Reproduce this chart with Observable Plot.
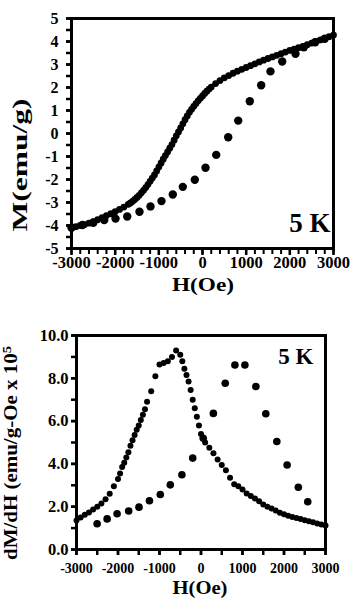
<!DOCTYPE html>
<html><head><meta charset="utf-8">
<script src="https://cdn.jsdelivr.net/npm/d3@7"></script>
<script src="https://cdn.jsdelivr.net/npm/@observablehq/plot@0.6"></script>
<style>
body{margin:0;background:#fff;}
#c{width:356px;height:598px;position:relative;overflow:hidden;}
#c svg{display:block;}
</style></head><body><div id="c"></div>
<script>
// ---- data ----
const hDense = [-3000,-2900,-2800,-2700,-2600,-2500,-2400,-2300,-2200,-2100,-2000,-1900,-1800,-1700,-1650,-1600,-1550,-1500,-1450,-1400,-1350,-1300,-1250,-1200,-1150,-1100,-1050,-1000,-950,-900,-850,-800,-750,-700,-650,-600,-550,-500,-450,-400,-350,-300,-250,-200,-150,-100,-50,0,50,100,150,200,300,400,500,600,700,800,900,1000,1100,1200,1300,1400,1500,1600,1700,1800,1900,2000,2100,2200,2300,2400,2500,2600,2700,2800,2900,3000];
// M (emu/g), descending branch (dense points)
const mDense = [-4.10,-4.05,-4.00,-3.96,-3.90,-3.83,-3.75,-3.66,-3.57,-3.49,-3.40,-3.30,-3.20,-3.08,-3.02,-2.95,-2.87,-2.78,-2.69,-2.58,-2.47,-2.35,-2.22,-2.08,-1.94,-1.80,-1.63,-1.46,-1.29,-1.12,-0.96,-0.80,-0.64,-0.48,-0.29,-0.10,0.07,0.24,0.42,0.60,0.76,0.92,1.05,1.18,1.30,1.42,1.53,1.63,1.74,1.84,1.93,2.02,2.17,2.30,2.42,2.52,2.62,2.71,2.79,2.87,2.95,3.03,3.11,3.19,3.26,3.33,3.40,3.47,3.54,3.61,3.67,3.73,3.79,3.86,3.93,4.00,4.07,4.14,4.21,4.28];
// M (emu/g), ascending branch (sparse points)
const hSparseM = [-3000,-2750,-2500,-2250,-1992,-1724,-1443,-1191,-939,-680,-451,-176,69,314,589,818,1083,1344,1557,1825,2130,2320,2580,2800];
const mSparse = [-4.10,-3.98,-3.88,-3.76,-3.70,-3.61,-3.40,-3.17,-2.94,-2.65,-2.32,-2.01,-1.49,-0.93,-0.16,0.56,1.40,2.10,2.70,3.13,3.47,3.75,3.97,4.12];
// dM/dH, descending branch (dense points)
const hDenseD = [-3000,-2900,-2800,-2700,-2600,-2500,-2400,-2300,-2200,-2100,-2000,-1950,-1900,-1850,-1800,-1750,-1700,-1650,-1600,-1550,-1500,-1450,-1400,-1350,-1300,-1200,-1100,-1000,-900,-800,-700,-600,-500,-450,-400,-350,-300,-250,-200,-150,-100,-50,0,100,200,300,400,500,600,700,800,900,1000,1100,1200,1300,1400,1500,1600,1700,1800,1900,2000,2100,2200,2300,2400,2500,2600,2700,2800,2900,3000];
const dDense = [1.36,1.50,1.62,1.73,1.87,2.00,2.15,2.35,2.60,2.95,3.30,3.55,3.85,4.05,4.30,4.55,4.85,5.10,5.35,5.60,5.80,6.05,6.30,6.55,6.90,7.40,8.10,8.65,8.72,8.80,9.00,9.30,9.10,8.80,8.45,8.15,7.85,7.45,7.00,6.60,6.20,5.80,5.40,5.00,4.75,4.50,4.20,3.95,3.70,3.35,3.05,2.95,2.80,2.62,2.50,2.38,2.25,2.10,2.00,1.92,1.82,1.72,1.65,1.58,1.52,1.47,1.42,1.37,1.32,1.27,1.22,1.17,1.12];
// dM/dH, ascending branch (sparse points)
const hSparseD = [-2503,-2262,-2022,-1743,-1494,-1242,-981,-740,-460,-200,54,298,584,817,1058,1322,1562,1827,2075,2345,2572];
const dSparse = [1.20,1.43,1.67,1.80,1.98,2.28,2.57,3.02,3.49,4.27,5.20,6.36,7.77,8.62,8.62,7.62,6.34,5.05,3.95,2.91,2.23];

// ticks / labels
const xTicks = [-3000,-2000,-1000,0,1000,2000,3000];
const xMinorTop = [-3000,-2800,-2600,-2400,-2200,-2000,-1800,-1600,-1400,-1200,-1000,-800,-600,-400,-200,0,200,400,600,800,1000,1200,1400,1600,1800,2000,2200,2400,2600,2800,3000];
const yTicksTop = [-5,-4,-3,-2,-1,0,1,2,3,4,5];
const yMinorTop = [-5,-4.5,-4,-3.5,-3,-2.5,-2,-1.5,-1,-0.5,0,0.5,1,1.5,2,2.5,3,3.5,4,4.5,5];
const xMinorBottom = [-3000,-2500,-2000,-1500,-1000,-500,0,500,1000,1500,2000,2500,3000];
const yTicksBottom = [0,2,4,6,8,10];
const yMinorBottom = [0,1,2,3,4,5,6,7,8,9,10];
const tempLabel = "5 K";
const xLabel = "H(Oe)";
const yLabelTop = "M(emu/g)";
const yLabelBottom = "dM/dH (emu/g-Oe x 10";
const yLabelBottomSup = "5";

const denseTop = hDense.map((h,i)=>({h, v:mDense[i]}));
const sparseTop = hSparseM.map((h,i)=>({h, v:mSparse[i]}));
const denseBot = hDenseD.map((h,i)=>({h, v:dDense[i]}));
const sparseBot = hSparseD.map((h,i)=>({h, v:dSparse[i]}));

const FONT = "'Liberation Serif', 'DejaVu Serif', serif";
const baseStyle = {fontFamily: FONT, fontWeight: "bold", color: "black", background: "white", overflow: "visible"};
const ax = {stroke: "black", label: null};

const topChart = Plot.plot({
  width: 356, height: 300,
  marginLeft: 71, marginRight: 23, marginTop: 18, marginBottom: 52,
  style: {...baseStyle, fontSize: "16px"},
  x: {domain: [-3000, 3000]},
  y: {domain: [-5, 5]},
  marks: [
    Plot.axisX({...ax, ticks: xMinorTop, tickSize: 6, text: null, strokeWidth: 2}),
    Plot.axisX({...ax, ticks: xTicks, tickSize: 7, tickPadding: 1, strokeWidth: 2.5, tickFormat: d => String(d), fill: "black", fontSize: 16.5}),
    Plot.axisY({...ax, ticks: yMinorTop, tickSize: 5, text: null, strokeWidth: 2.5}),
    Plot.axisY({...ax, ticks: yTicksTop, tickSize: 5, tickPadding: 8, strokeWidth: 2.5, tickFormat: d => String(d), fill: "black", fontSize: 16}),
    Plot.frame({strokeWidth: 3, stroke: "black"}),
    Plot.dot(denseTop, {x: "h", y: "v", r: 3.4, fill: "black"}),
    Plot.dot(sparseTop, {x: "h", y: "v", r: 4.2, fill: "black"}),
    Plot.text([tempLabel], {frameAnchor: "bottom-right", dx: -3, dy: -17, lineAnchor: "bottom", textAnchor: "end", fontSize: 27, fontWeight: "bold", fill: "black"})
  ]
});

const botChart = Plot.plot({
  width: 356, height: 298,
  marginLeft: 76, marginRight: 31, marginTop: 35, marginBottom: 49,
  style: {...baseStyle, fontSize: "15px"},
  x: {domain: [-3000, 3000]},
  y: {domain: [0, 10]},
  marks: [
    Plot.axisX({...ax, ticks: xMinorBottom, tickSize: 6, text: null, strokeWidth: 2.5}),
    Plot.axisX({...ax, ticks: xTicks, tickSize: 6, tickPadding: 8, strokeWidth: 2.5, tickFormat: d => String(d), fill: "black", fontSize: 14}),
    Plot.axisY({...ax, ticks: yMinorBottom, tickSize: 5, text: null, strokeWidth: 2.5}),
    Plot.axisY({...ax, ticks: yTicksBottom, tickSize: 5, tickPadding: 3, strokeWidth: 2.5, tickFormat: d3.format(".1f"), fill: "black", fontSize: 16.5}),
    Plot.frame({strokeWidth: 3, stroke: "black"}),
    Plot.dot(denseBot, {x: "h", y: "v", r: 3, fill: "black"}),
    Plot.dot(sparseBot, {x: "h", y: "v", r: 3.8, fill: "black"}),
    Plot.text([tempLabel], {frameAnchor: "top-right", dx: -12, dy: 12, lineAnchor: "top", textAnchor: "end", fontSize: 23, fontWeight: "bold", fill: "black"})
  ]
});

function addLabel(svg, txt, x, y, rot, size, len, sup) {
  const t = d3.select(svg).append("text")
    .attr("transform", `translate(${x},${y})` + (rot ? " rotate(-90)" : ""))
    .attr("text-anchor", "middle")
    .attr("font-family", FONT).attr("font-weight", "bold")
    .attr("font-size", size).attr("fill", "black")
    .attr("textLength", len).attr("lengthAdjust", "spacingAndGlyphs");
  t.append("tspan").text(txt);
  if (sup) t.append("tspan").attr("dy", -6).attr("font-size", size * 0.7).text(sup);
}
addLabel(topChart, yLabelTop, 27, 165, true, 22, 133);
addLabel(topChart, xLabel, 203, 291, false, 19, 62);
addLabel(botChart, yLabelBottom, 17, 153, true, 18, 214, yLabelBottomSup);
addLabel(botChart, xLabel, 200, 294, false, 18, 55);

document.getElementById("c").append(topChart, botChart);
</script></body></html>
